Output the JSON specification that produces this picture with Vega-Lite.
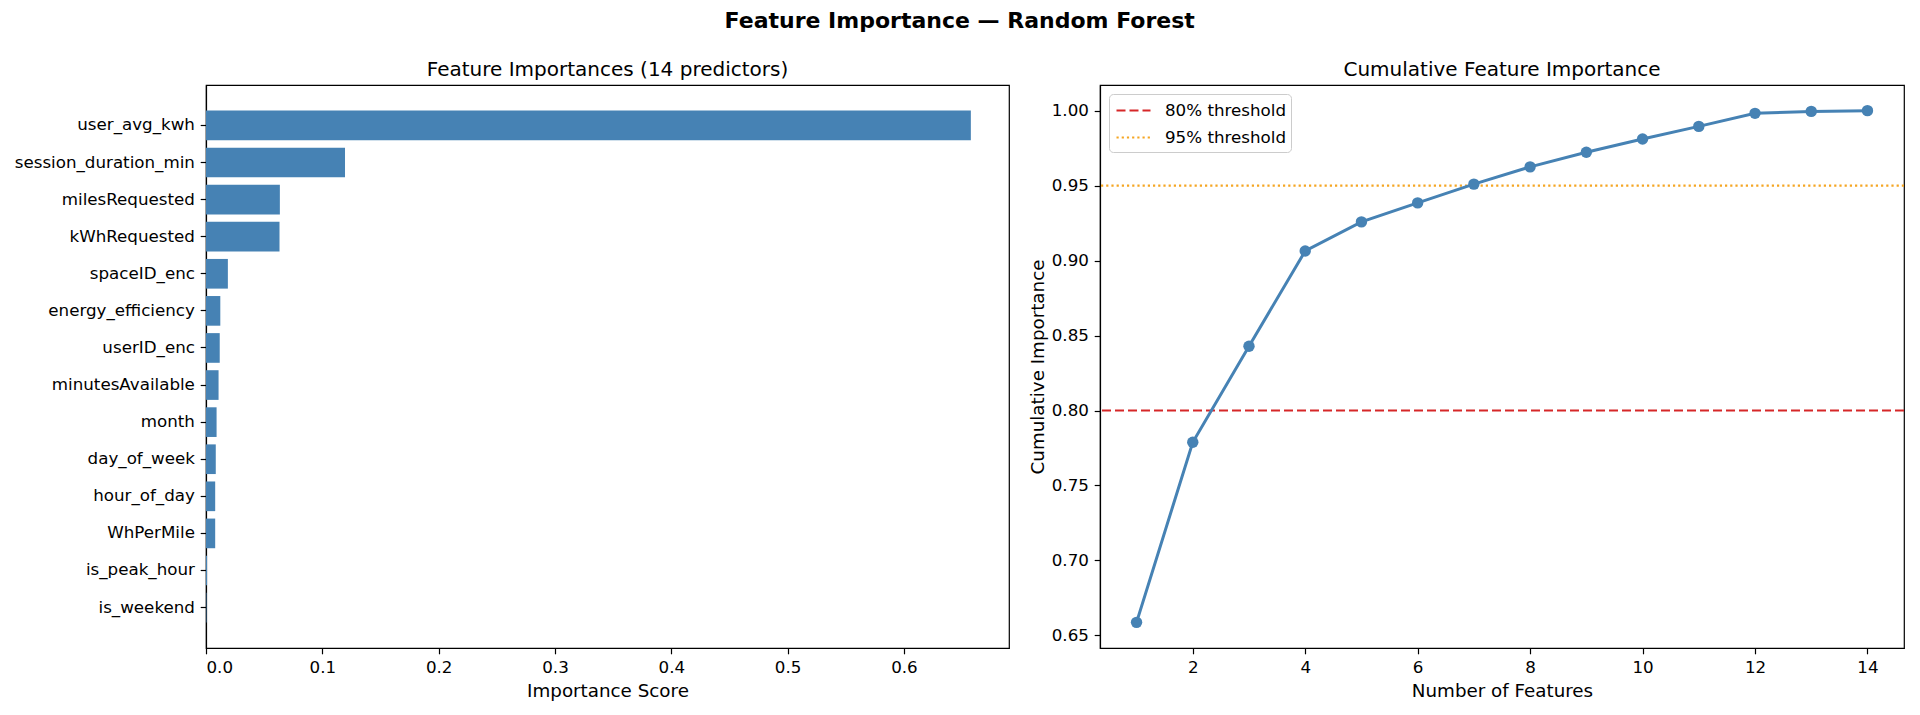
{
  "$schema": "https://vega.github.io/schema/vega-lite/v6.json",
  "background": "white",
  "padding": {"left": 13, "top": 10, "right": 5, "bottom": 5},
  "title": {
    "text": "Feature Importance — Random Forest",
    "font": "DejaVu Sans",
    "fontSize": 22,
    "fontWeight": "bold",
    "color": "#000000",
    "anchor": "middle",
    "offset": 26
  },
  "datasets": {
    "importances": [
      {"feature": "user_avg_kwh", "importance": 0.6575},
      {"feature": "session_duration_min", "importance": 0.1195},
      {"feature": "milesRequested", "importance": 0.0635},
      {"feature": "kWhRequested", "importance": 0.0632},
      {"feature": "spaceID_enc", "importance": 0.0188},
      {"feature": "energy_efficiency", "importance": 0.0123},
      {"feature": "userID_enc", "importance": 0.0118},
      {"feature": "minutesAvailable", "importance": 0.0108},
      {"feature": "month", "importance": 0.0091},
      {"feature": "day_of_week", "importance": 0.0084},
      {"feature": "hour_of_day", "importance": 0.0079},
      {"feature": "WhPerMile", "importance": 0.0079},
      {"feature": "is_peak_hour", "importance": 0.0009},
      {"feature": "is_weekend", "importance": 0.0004}
    ],
    "cumulative": [
      {"n": 1, "cum": 0.6587},
      {"n": 2, "cum": 0.7788},
      {"n": 3, "cum": 0.8429},
      {"n": 4, "cum": 0.9064},
      {"n": 5, "cum": 0.9258},
      {"n": 6, "cum": 0.9385},
      {"n": 7, "cum": 0.951},
      {"n": 8, "cum": 0.9625},
      {"n": 9, "cum": 0.9722},
      {"n": 10, "cum": 0.9811},
      {"n": 11, "cum": 0.9895},
      {"n": 12, "cum": 0.9982},
      {"n": 13, "cum": 0.9995},
      {"n": 14, "cum": 1.0}
    ],
    "thresholds": [
      {"label": "80% threshold", "value": 0.8},
      {"label": "95% threshold", "value": 0.95}
    ]
  },
  "spacing": 17,
  "resolve": {"legend": {"color": "independent", "strokeDash": "independent"}},
  "hconcat": [
    {
      "width": 803,
      "height": 563,
      "title": "Feature Importances (14 predictors)",
      "data": {"name": "importances"},
      "mark": {"type": "bar", "color": "#4682b4"},
      "encoding": {
        "y": {
          "field": "feature",
          "type": "nominal",
          "sort": null,
          "scale": {"paddingInner": 0.2, "paddingOuter": 0.69},
          "axis": {"title": null, "labelLimit": 400}
        },
        "x": {
          "field": "importance",
          "type": "quantitative",
          "scale": {"domain": [0, 0.6903], "nice": false},
          "axis": {
            "values": [0, 0.1, 0.2, 0.3, 0.4, 0.5, 0.6],
            "format": ".1f",
            "title": "Importance Score"
          }
        }
      }
    },
    {
      "width": 804,
      "height": 563,
      "title": "Cumulative Feature Importance",
      "layer": [
        {
          "data": {"name": "thresholds"},
          "mark": {"type": "rule", "strokeWidth": 2.2},
          "encoding": {
            "y": {
              "field": "value",
              "type": "quantitative",
              "scale": {"domain": [0.6416, 1.0171], "nice": false, "zero": false}
            },
            "color": {
              "field": "label",
              "type": "nominal",
              "scale": {
                "domain": ["80% threshold", "95% threshold"],
                "range": ["#d62728", "#f5a623"]
              },
              "legend": {"title": null}
            },
            "strokeDash": {
              "field": "label",
              "type": "nominal",
              "scale": {
                "domain": ["80% threshold", "95% threshold"],
                "range": [[9, 4], [2.2, 3]]
              },
              "legend": {"title": null}
            }
          }
        },
        {
          "data": {"name": "cumulative"},
          "mark": {"type": "line", "color": "#4682b4", "strokeWidth": 3},
          "encoding": {
            "x": {
              "field": "n",
              "type": "quantitative",
              "scale": {"domain": [0.35, 14.65], "nice": false, "zero": false},
              "axis": {
                "values": [2, 4, 6, 8, 10, 12, 14],
                "format": "d",
                "title": "Number of Features"
              }
            },
            "y": {
              "field": "cum",
              "type": "quantitative",
              "axis": {
                "values": [0.65, 0.7, 0.75, 0.8, 0.85, 0.9, 0.95, 1.0],
                "format": ".2f",
                "title": "Cumulative Importance",
                "titlePadding": 4
              }
            }
          }
        },
        {
          "data": {"name": "cumulative"},
          "mark": {"type": "circle", "color": "#4682b4", "size": 130, "opacity": 1},
          "encoding": {
            "x": {"field": "n", "type": "quantitative"},
            "y": {"field": "cum", "type": "quantitative"}
          }
        }
      ]
    }
  ],
  "config": {
    "font": "DejaVu Sans",
    "view": {"stroke": "#000000", "strokeWidth": 1.2},
    "axis": {
      "grid": false,
      "domainColor": "#000000",
      "domainWidth": 1.2,
      "tickColor": "#000000",
      "tickWidth": 1.2,
      "tickSize": 5.8,
      "labelPadding": 5.8,
      "labelFont": "DejaVu Sans",
      "labelFontSize": 16.7,
      "labelColor": "#000000",
      "titleFont": "DejaVu Sans",
      "titleFontSize": 18.3,
      "titleFontWeight": "normal",
      "titleColor": "#000000",
      "titlePadding": 6
    },
    "title": {
      "font": "DejaVu Sans",
      "fontSize": 20,
      "fontWeight": "normal",
      "color": "#000000",
      "baseline": "alphabetic",
      "offset": 5
    },
    "legend": {
      "orient": "top-left",
      "offset": 8.5,
      "fillColor": "white",
      "strokeColor": "#cccccc",
      "cornerRadius": 4,
      "padding": 5,
      "symbolType": "M-0.9,0H2.5",
      "symbolSize": 400,
      "symbolStrokeWidth": 2.2,
      "labelFont": "DejaVu Sans",
      "labelFontSize": 16.7,
      "labelColor": "#000000",
      "labelOffset": 28,
      "rowPadding": 6
    }
  }
}
